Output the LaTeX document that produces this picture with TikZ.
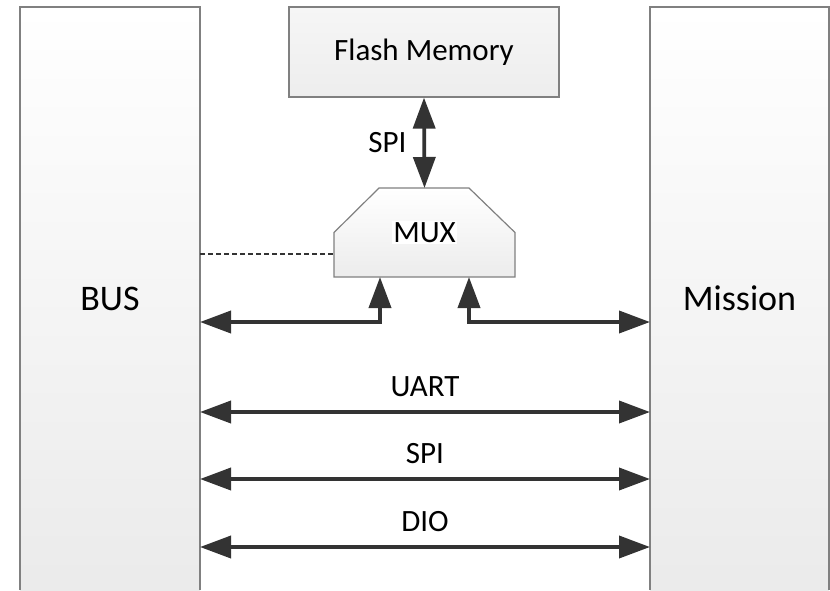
\documentclass[tikz,border=0pt]{standalone}
\usepackage{fontspec}
\setmainfont{Carlito}
\usetikzlibrary{arrows.meta,calc,positioning}
\definecolor{edge}{HTML}{808080}
\definecolor{wire}{HTML}{333333}
\tikzset{
  lab/.style={font=\fontsize{31}{36}\selectfont, inner sep=0pt},
  bigLab/.style={font=\fontsize{36}{42}\selectfont},
  sideBox/.style={top color=white, bottom color=gray!16, minimum width=180pt,
    minimum height=583pt, inner sep=0pt, outer sep=0pt},
  sideLine/.style={draw=edge, line width=1.2pt},
  blockFill/.style={draw=edge, line width=1.2pt},
  link/.style={draw=wire, line width=3.8pt, >={Triangle[length=31pt,width=22pt]}},
  dashLine/.style={draw=wire, line width=2.6pt, dash pattern=on 5pt off 3pt}
}

\begin{document}
\begin{tikzpicture}[x=1pt,y=-1pt]
  \useasboundingbox (0,0) rectangle (830,590);

  % side blocks, open at the bottom
  \node[sideBox, bigLab] (bus) at (110,298.5) {BUS};
  \node[sideBox, bigLab, minimum width=179pt] (mission) at (739.5,298.5) {Mission};
  \draw[sideLine] (bus.south west) -- (bus.north west) -- (bus.north east) -- (bus.south east);
  \draw[sideLine] (mission.south west) -- (mission.north west) -- (mission.north east) -- (mission.south east);

  % flash and mux
  \node[blockFill, lab, top color=gray!7, bottom color=gray!14,
    minimum width=270pt, minimum height=90pt] (flash) at (424,52) {Flash Memory};
  \node[minimum width=181pt, minimum height=89pt, outer sep=0pt] (mux) at (424.5,232.5) {};
  \draw[blockFill, top color=white, bottom color=gray!15]
    (mux.south west) -- (mux.west) -- ($(mux.north west)+(45,0)$)
    -- ($(mux.north east)+(-46,0)$) -- (mux.east) -- (mux.south east) -- cycle;
  \node[lab, fill=white, inner sep=1pt] (muxLabel) at (mux.center) {MUX};

  % signal levels
  \coordinate (dashLevel) at (0,254);
  \coordinate (muxLevel) at (0,322);
  \coordinate (uartLevel) at (0,412);
  \coordinate (spiLevel) at (0,479);
  \coordinate (dioLevel) at (0,547);

  \draw[link, <->] (flash.south) -- node[lab, midway, left=16pt] (spiTop) {SPI} (mux.north);
  \draw[dashLine] (bus.east |- dashLevel) -- (mux.west |- dashLevel);
  \draw[link, <->] (bus.east |- muxLevel) -| ($(mux.south west)+(46,0)$);
  \draw[link, <->] ($(mux.south east)+(-46,0)$) |- (mission.west |- muxLevel);

  \draw[link, <->] (bus.east |- uartLevel) -- node[lab, above=13pt] (uartLabel) {UART} (mission.west |- uartLevel);
  \draw[link, <->] (bus.east |- spiLevel) -- node[lab, above=13pt] (spiLabel) {SPI} (mission.west |- spiLevel);
  \draw[link, <->] (bus.east |- dioLevel) -- node[lab, above=13pt] (dioLabel) {DIO} (mission.west |- dioLevel);
\end{tikzpicture}
\end{document}
